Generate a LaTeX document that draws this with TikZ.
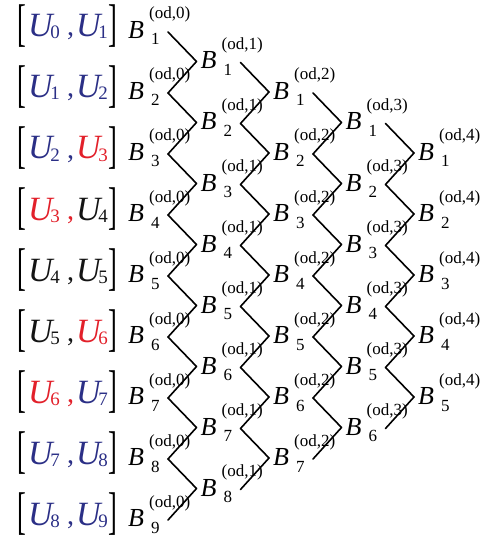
\documentclass[tikz,border=0pt]{standalone}
\usepackage{fontspec}
\setmainfont{Liberation Serif}
\definecolor{ublue}{RGB}{43,47,134}
\definecolor{ured}{RGB}{226,32,42}
\definecolor{ublack}{RGB}{20,20,20}
\tikzset{
  bmain/.style={inner sep=0pt, anchor=base, font=\fontsize{26}{26}\selectfont\itshape},
  bsub/.style={inner sep=0pt, anchor=base west, font=\fontsize{17}{17}\selectfont},
  bsup/.style={inner sep=0pt, anchor=base west, font=\fontsize{17}{17}\selectfont},
  link/.style={line width=1.6pt, black, line cap=round},
  ubr/.style={inner sep=0pt, anchor=center},
  uU/.style={inner sep=0pt, anchor=base west, font=\fontsize{34}{34}\selectfont\itshape},
  ucomma/.style={inner sep=0pt, anchor=base west, font=\fontsize{28}{28}\selectfont},
}
\newcommand{\bigbr}[1]{\scalebox{1.1}[2.15]{\fontsize{24}{24}\selectfont #1}}
\newcommand{\Usub}[1]{U\kern-2.5pt\raisebox{-2pt}{\fontsize{19}{19}\selectfont\upshape #1}}
\begin{document}
\begin{tikzpicture}[x=1pt,y=-1pt]
\useasboundingbox (0,0) rectangle (486,548);
% B nodes
\foreach \k/\n in {0/9,1/8,2/7,3/6,4/5}{
  \foreach \i in {1,...,\n}{
    \pgfmathsetmacro{\px}{136+72.5*\k}
    \pgfmathsetmacro{\py}{30+30.5*\k+61*(\i-1)}
    \node[bmain] (B-\k-\i) at (\px,\py+8.5) {B};
    \node[bsub] (Bsub-\k-\i) at (\px+15,\py+15) {\i};
    \node[bsup] (Bsup-\k-\i) at (\px+13,\py-11) {(od,\k)};
    \coordinate (L-\k-\i) at (\px-12,\py+1);
    \coordinate (R-\k-\i) at (\px+32,\py+2);
  }
}
% connectors
\foreach \k/\n in {0/8,1/7,2/6,3/5}{
  \foreach \i in {1,...,\n}{
    \pgfmathtruncatemacro{\j}{\k+1}
    \pgfmathtruncatemacro{\ii}{\i+1}
    \draw[link] (R-\k-\i) -- (L-\j-\i);
    \draw[link] (R-\k-\ii) -- (L-\j-\i);
  }
}
% interval brackets
\foreach \i/\ca/\cb in {1/ublue/ublue,2/ublue/ublue,3/ublue/ured,4/ured/ublack,5/ublack/ublack,6/ublack/ured,7/ured/ublue,8/ublue/ublue,9/ublue/ublue}{
  \pgfmathsetmacro{\yy}{30+61*(\i-1)}
  \pgfmathtruncatemacro{\ia}{\i-1}
  \node[ubr] (LB-\i) at (22,\yy-4) {\bigbr{[}};
  \node[uU, text=\ca] (Ua-\i) at (28,\yy+7) {\Usub{\ia}};
  \node[ucomma, text=\ca] (C-\i) at (67,\yy+6) {,};
  \node[uU, text=\cb] (Ub-\i) at (76,\yy+7) {\Usub{\i}};
  \node[ubr] (RB-\i) at (113,\yy-4) {\bigbr{]}};
}
\end{tikzpicture}
\end{document}
